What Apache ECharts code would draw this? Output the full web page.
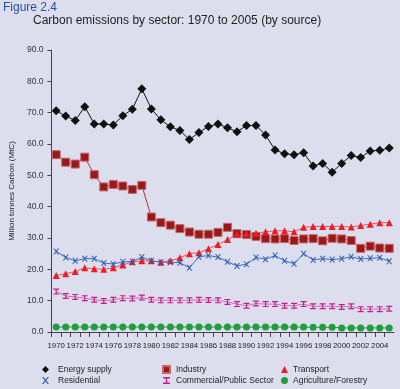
<!DOCTYPE html>
<html>
<head>
<meta charset="utf-8">
<script src="https://cdn.jsdelivr.net/npm/echarts@6/dist/echarts.min.js"></script>
<style>
html,body{margin:0;padding:0;background:#dcdeee;}
#c{width:400px;height:389px;}
</style>
</head>
<body>
<div id="c"></div>
<script>
const years = [];
for (let y = 1970; y <= 2005; y++) years.push(String(y));

const energySupply = [70.6,68.9,67.5,71.9,66.4,66.4,66.1,69.0,71.1,77.6,71.2,67.7,65.5,64.3,61.4,63.7,65.6,66.4,65.2,63.9,65.9,65.9,62.9,58.1,56.9,56.6,57.2,53.0,53.8,51.0,53.8,56.3,55.7,57.8,58.0,58.7];
const industry = [56.6,54.2,53.6,55.8,50.2,46.3,47.1,46.6,45.5,46.8,36.7,34.9,34.1,33.0,31.9,31.2,31.2,31.8,33.4,31.4,31.1,30.5,29.8,29.7,29.8,29.2,29.7,29.8,29.1,29.9,29.7,29.2,26.7,27.4,26.8,26.7];
const transport = [18.0,18.6,19.3,20.5,20.2,20.0,20.5,21.4,22.4,22.7,22.7,22.3,22.7,23.7,25.0,25.3,26.6,27.9,29.5,31.1,31.4,31.5,32.0,32.3,32.3,32.0,33.4,33.7,33.7,33.7,33.7,33.5,34.0,34.4,34.9,34.9];
const residential = [25.7,23.8,22.7,23.4,23.4,22.0,21.7,22.4,22.5,23.9,22.7,22.3,22.3,22.1,20.5,24.0,24.4,23.9,22.4,21.1,21.6,23.8,23.2,24.4,22.7,21.8,25.0,23.0,23.4,23.1,23.4,24.0,23.3,23.5,23.7,22.6];
const commercial = [12.9,11.5,11.2,10.8,10.3,9.9,10.3,10.8,10.7,11.0,10.3,10.1,10.1,10.1,10.1,10.3,10.2,10.1,9.6,8.9,8.4,9.1,8.9,8.9,8.4,8.4,8.9,8.2,8.2,8.2,8.0,8.2,7.3,7.3,7.3,7.4];
const agriculture = [1.6,1.6,1.6,1.6,1.6,1.6,1.6,1.6,1.6,1.6,1.6,1.6,1.6,1.6,1.6,1.6,1.6,1.6,1.6,1.6,1.6,1.6,1.6,1.6,1.6,1.6,1.6,1.5,1.5,1.5,1.3,1.3,1.3,1.3,1.3,1.3];

const xPath = 'path://M0,0L2,0L5,3.5L8,0L10,0L6,5L10,10L8,10L5,6.5L2,10L0,10L4,5Z';
const iPath = 'path://M0,0L10,0L10,2L6,2L6,8L10,8L10,10L0,10L0,8L4,8L4,2L0,2Z';

const FONT = '"Liberation Sans", Arial, sans-serif';

const chart = echarts.init(document.getElementById('c'), null, {renderer:'canvas'});
const mk = (name, data, color, lineColor, symbol, size, border) => ({
  name, type:'line', data,
  symbol, symbolSize:size, showAllSymbol:true,
  itemStyle:{color, borderColor:border||color, borderWidth: border?1:0},
  lineStyle:{color:lineColor, width:1},
  emphasis:{disabled:true},
  animation:false
});

const legendBase = {orient:'vertical', itemWidth:7, itemHeight:7, itemGap:2, padding:0, top:365, height:24};

chart.setOption({
  backgroundColor:'#dcdeee',
  animation:false,
  textStyle:{fontFamily:FONT},
  title:[
    {text:'Figure 2.4', left:3, top:2, padding:0, textStyle:{fontSize:12, fontWeight:'normal', color:'#2b4fa0', fontFamily:FONT}},
    {text:'Carbon emissions by sector: 1970 to 2005 (by source)', left:33, top:15, padding:0, textStyle:{fontSize:12, fontWeight:'normal', color:'#222', fontFamily:FONT}}
  ],
  legend:[
    Object.assign({}, legendBase, {left:42,
     textStyle:{fontSize:8.5, color:'#222', padding:[0,0,0,4], fontFamily:FONT},
     data:[{name:'Energy supply', icon:'diamond'},{name:'Residential', icon:xPath}]}),
    Object.assign({}, legendBase, {left:162,
     textStyle:{fontSize:8.5, color:'#222', padding:[0,0,0,1], fontFamily:FONT},
     data:[{name:'Industry', icon:'rect'},{name:'Commercial/Public Sector', icon:iPath}]}),
    Object.assign({}, legendBase, {left:281,
     textStyle:{fontSize:8.5, color:'#222', padding:[0,0,0,0], fontFamily:FONT},
     data:[{name:'Transport', icon:'triangle'},{name:'Agriculture/Forestry', icon:'circle'}]})
  ],
  grid:{left:41, right:6, top:50, bottom:57},
  xAxis:{
    type:'category', data:years, boundaryGap:true,
    axisLine:{lineStyle:{color:'#444', width:1}},
    axisTick:{show:true, interval:0, length:5, lineStyle:{color:'#444'}},
    axisLabel:{interval:1, fontSize:7.8, color:'#222', margin:10, fontFamily:FONT},
    splitLine:{show:false}
  },
  yAxis:{
    type:'value', min:0, max:90, interval:10,
    name:'Million tonnes Carbon (MtC)', nameLocation:'middle', nameGap:33,
    nameTextStyle:{fontSize:8, color:'#222', fontFamily:FONT},
    axisLine:{show:true, lineStyle:{color:'#444'}},
    axisTick:{show:true, length:4, inside:false, lineStyle:{color:'#444'}},
    axisLabel:{fontSize:8.5, color:'#333', margin:8, formatter:v=>v.toFixed(1), fontFamily:FONT},
    splitLine:{show:true, showMinLine:true, lineStyle:{color:['#a4a4b0','#444','#444'], width:[2,1,1]}}
  },
  series:[
    mk('Energy supply', energySupply, '#111', '#111', 'diamond', 9),
    mk('Industry', industry, '#9a1818', '#a83a3a', 'rect', 8, '#c06a70'),
    mk('Transport', transport, '#ee1c24', '#f05060', 'triangle', 7),
    mk('Residential', residential, '#2a5cb4', '#3a6cc0', xPath, 6),
    mk('Commercial/Public Sector', commercial, '#c41c8c', '#d86aae', iPath, 6),
    mk('Agriculture/Forestry', agriculture, '#1e9e3c', '#1e9e3c', 'circle', 7)
  ]
});
</script>
</body>
</html>
